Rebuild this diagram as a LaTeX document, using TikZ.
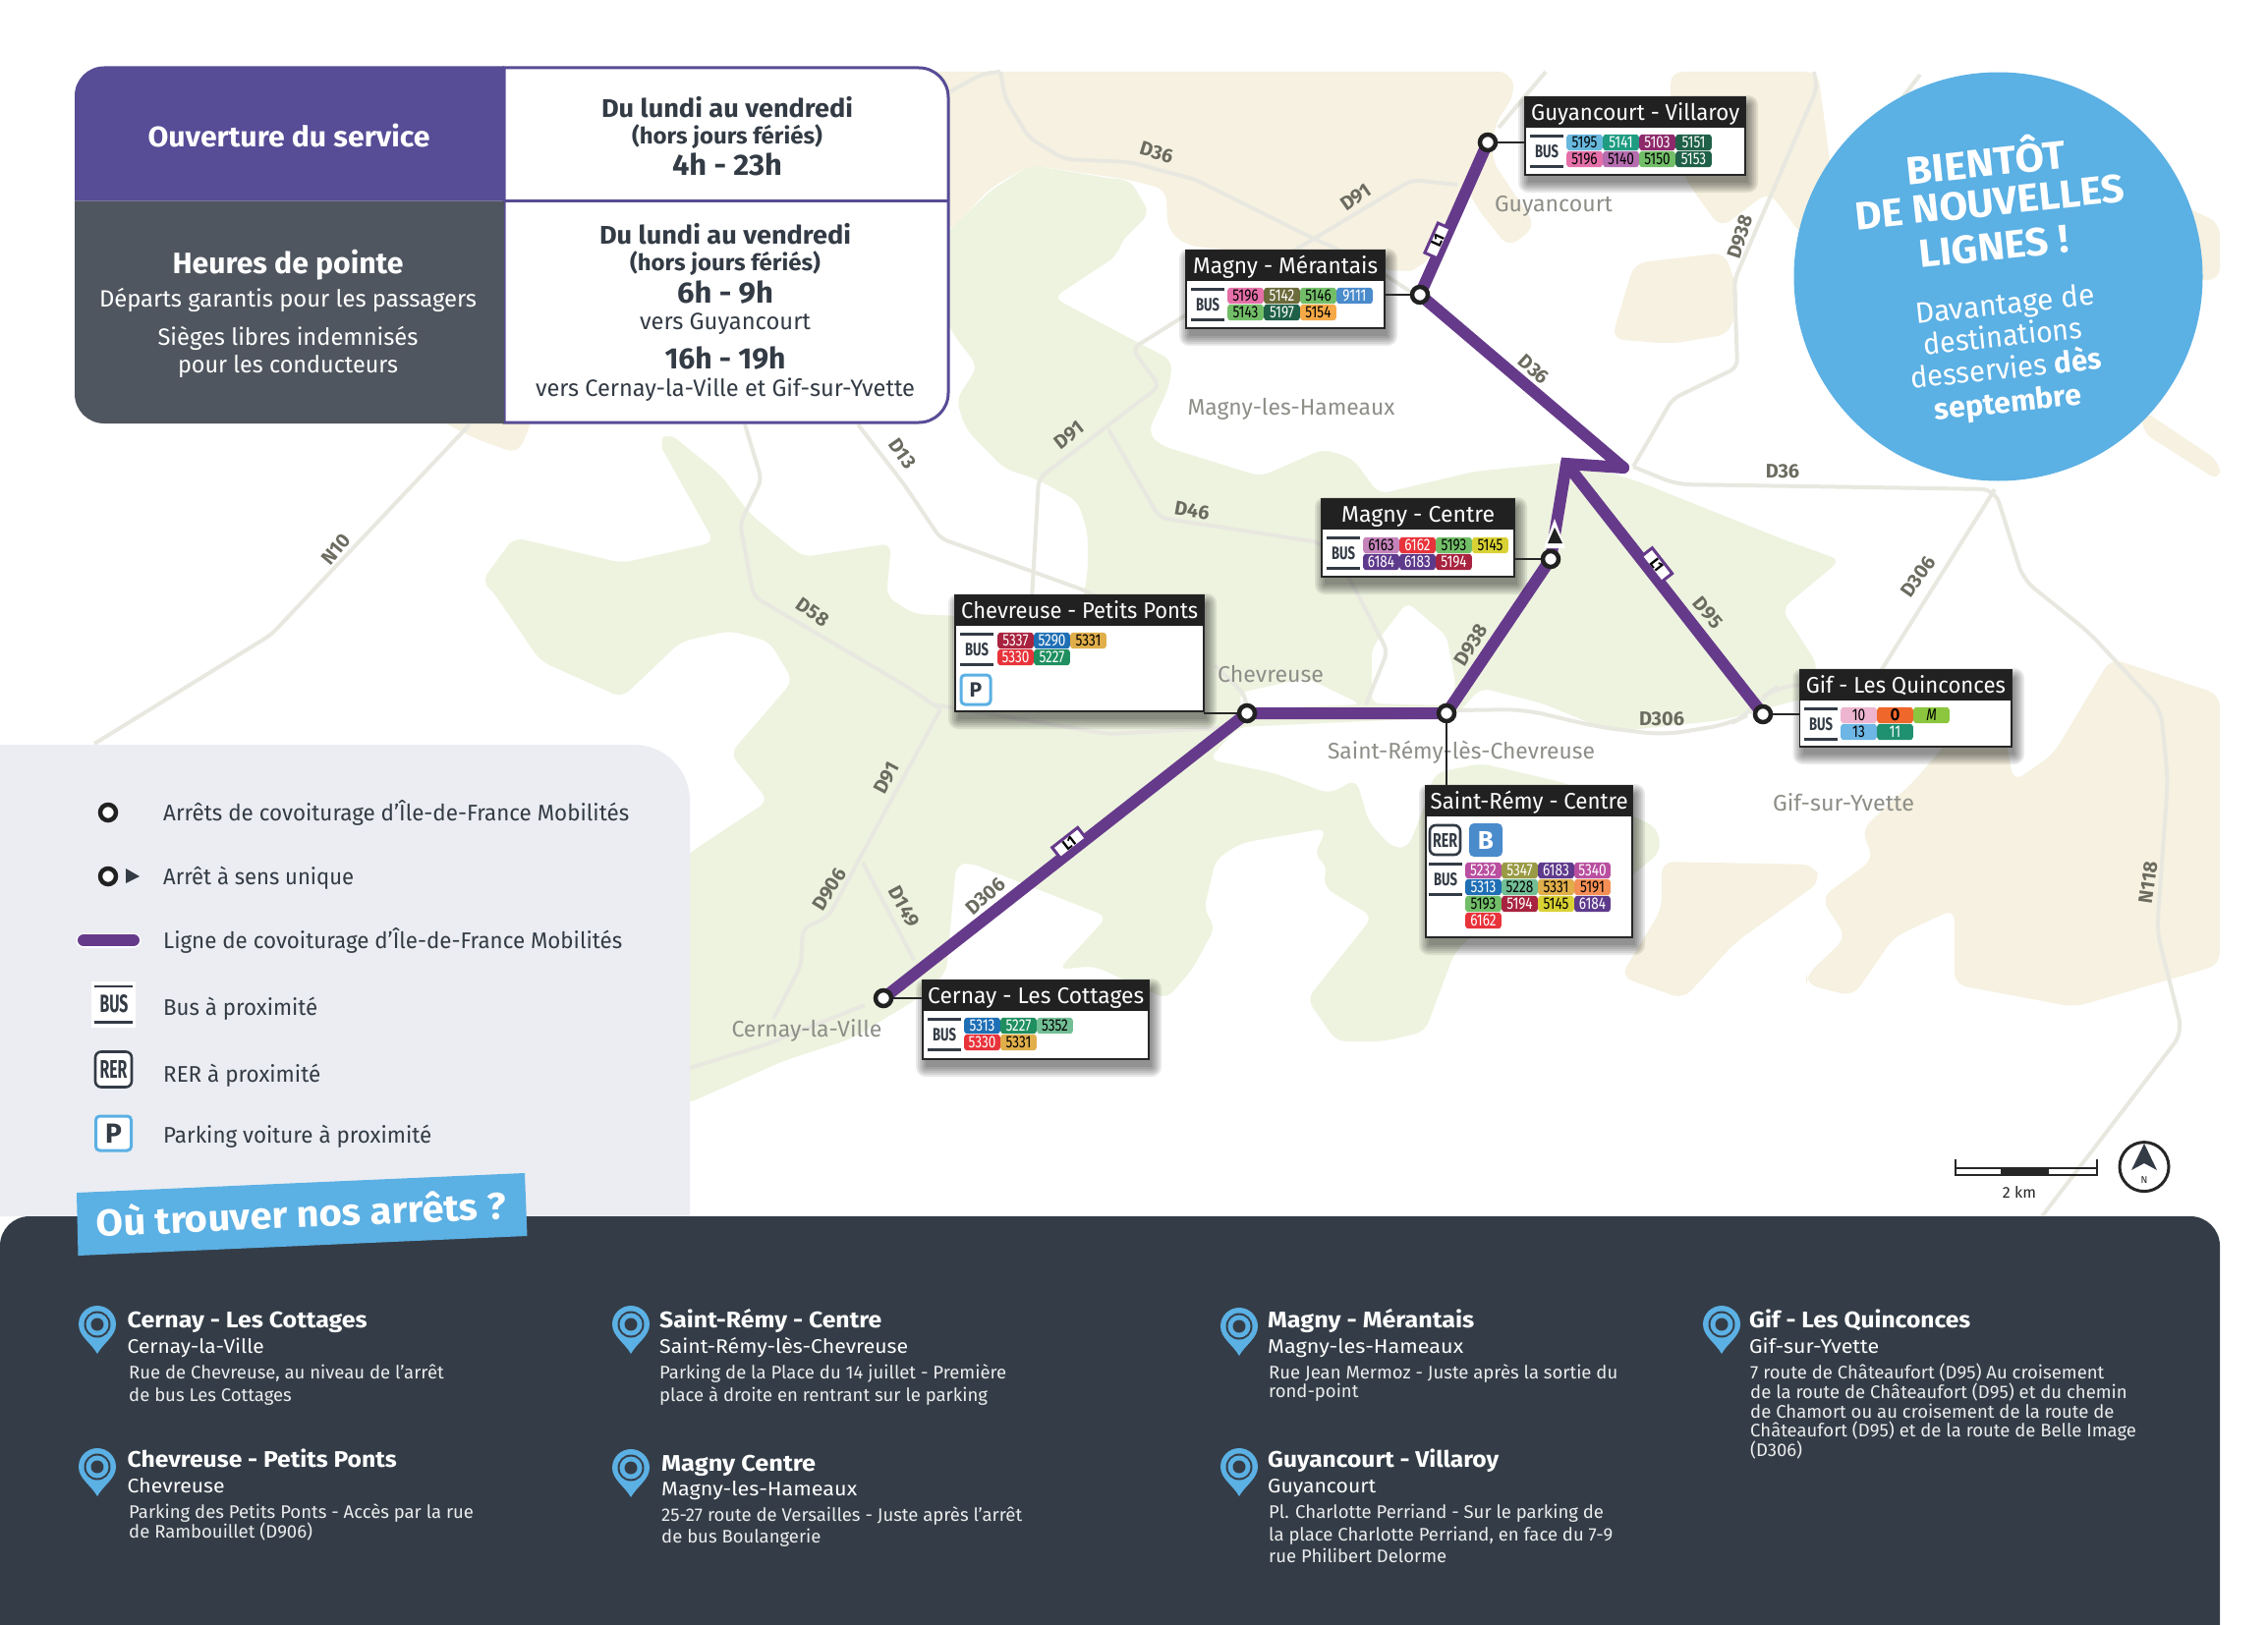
\documentclass[tikz,border=0pt]{standalone}
\usepackage{graphicx}
\usepackage{fontspec}
\setmainfont{Fira Sans}
\definecolor{panelP}{HTML}{574C96}
\definecolor{panelG}{HTML}{50565F}
\definecolor{inkD}{HTML}{333B45}
\definecolor{darkP}{HTML}{343D47}
\definecolor{legG}{HTML}{EBEDF2}
\definecolor{skyB}{HTML}{5BB0E4}
\definecolor{routeC}{HTML}{663A8B}
\definecolor{beige}{HTML}{F6F1E0}
\definecolor{greenM}{HTML}{EDF3DF}
\definecolor{roadC}{HTML}{E8E8E0}
\definecolor{roadT}{HTML}{6B6B60}
\definecolor{townT}{HTML}{8E8E88}
\definecolor{cPink}{HTML}{E56FA8}
\definecolor{cOlive}{HTML}{6B6B3C}
\definecolor{cGreen}{HTML}{72BE68}
\definecolor{cBlue}{HTML}{4A8BCB}
\definecolor{cDkG}{HTML}{1F6048}
\definecolor{cOrange}{HTML}{F5A947}
\definecolor{cSky}{HTML}{68B8DE}
\definecolor{cTeal}{HTML}{1F9C82}
\definecolor{cPlum}{HTML}{8E2A6B}
\definecolor{cMauve}{HTML}{B56DB0}
\definecolor{cLilac}{HTML}{C583BB}
\definecolor{cRed}{HTML}{E8333B}
\definecolor{cYellow}{HTML}{D9D234}
\definecolor{cPurple}{HTML}{5E3A8C}
\definecolor{cCrim}{HTML}{A8233F}
\definecolor{cRoyal}{HTML}{1F6FB5}
\definecolor{cGold}{HTML}{E0AE4A}
\definecolor{cEmer}{HTML}{1F8F5F}
\definecolor{cMint}{HTML}{72BE95}
\definecolor{cMag}{HTML}{B94FA0}
\definecolor{cKhaki}{HTML}{9A9A45}
\definecolor{cCoral}{HTML}{F58F55}
\definecolor{cPale}{HTML}{EDB5D0}
\definecolor{cOrg}{HTML}{F0672B}
\definecolor{cLime}{HTML}{8CC63F}
\definecolor{cSkyB}{HTML}{6DB6E5}
\definecolor{cTealB}{HTML}{1F9070}
\newcommand{\fsz}[1]{\fontsize{#1pt}{#1pt}\selectfont}
\newsavebox{\twbox}
\newcommand{\tw}[2]{\sbox{\twbox}{#2}\pgfmathsetmacro{\twr}{#1/\the\wd\twbox}\scalebox{\twr}[1]{\usebox{\twbox}}}
\newcounter{lb}
\newcommand{\lab}[4]{\stepcounter{lb}\node[#1] (lb\arabic{lb}) at ({#2},{#3}) {#4};}
\newcommand{\bd}[5]{\stepcounter{lb}\node[badge,fill=#3,text=#4] (lb\arabic{lb}) at ({#1*37+18.5},{#2*17+8}) {\scalebox{0.8}[1]{#5}};}
\newcommand{\stopcard}[7]{%
  \foreach \i in {1,...,6}{\pgfmathsetmacro{\sv}{2*\i-2}
    \fill[black,opacity=.085,rounded corners=\sv pt] ({#2+3-\sv},{#3+8-\sv}) rectangle ({#2+#4+3+\sv},{#3+#5+8+\sv});}
  \node[cardbody,minimum width=#4pt,minimum height=#5pt] (#1) at (#2,#3) {};
  \node[cardhead,minimum width=#4pt] (#1h) at (#2,#3) {};
  \lab{inner sep=0pt,anchor=base west,text=white,font=\fsz{23}}{#2+(#4-#7)/2}{#3+23}{\tw{#7}{#6}}
}
\newcommand{\busicon}[2]{%
  \draw[busbar] ({#1-17},{#2-15.5}) -- ({#1+17},{#2-15.5});
  \draw[busbar] ({#1-17},{#2+15.5}) -- ({#1+17},{#2+15.5});
  \lab{inner sep=0pt,anchor=center,text=inkD}{#1}{#2}{\resizebox{24pt}{13pt}{\bfseries BUS}}
}
\newcommand{\pinicon}[2]{%
  \begin{scope}[shift={(#1,#2)}]
  \fill[skyB] (0,24) .. controls (-6,13) and (-19,6) .. (-19,-6) .. controls (-19,-17) and (-10,-25) .. (0,-25) .. controls (10,-25) and (19,-17) .. (19,-6) .. controls (19,6) and (6,13) .. (0,24) -- cycle;
  \fill[darkP] (0,-6) circle (13.5pt);
  \fill[skyB] (0,-6) circle (11.5pt);
  \fill[darkP] (0,-6) circle (6.5pt);
  \end{scope}
}
\newcommand{\entry}[7]{% x, y title, y sub, title, sub, w title, w sub
  \lab{tl,text=white,font=\fsz{23}}{#1}{#2}{\tw{#6}{\bfseries #4}}
  \lab{tl,yshift=2pt,text=white,font=\fsz{20}}{#1}{#3}{\tw{#7}{#5}}
}
\tikzset{
  x=1pt,y=-1pt,
  tm/.style={inner sep=0pt,anchor=mid,yshift=-6pt},
  tl/.style={inner sep=0pt,anchor=mid west,yshift=-6pt},
  tc/.style={inner sep=0pt,anchor=center},
  bl/.style={fill=beige,rounded corners=12pt},
  gb/.style={fill=greenM,rounded corners=10pt},
  wb/.style={fill=white,rounded corners=8pt},
  road/.style={draw=roadC,line width=4pt,rounded corners=8pt},
  roadlab/.style={inner sep=0pt,anchor=center,text=roadT,font=\fsz{20}\bfseries},
  town/.style={inner sep=0pt,anchor=center,text=townT,font=\fsz{23}},
  route/.style={draw=routeC,line width=12pt,line cap=round,line join=miter},
  stopdot/.style={circle,draw=black!87,line width=4.5pt,fill=white,minimum size=16pt,inner sep=0pt},
  leader/.style={draw=black!85,line width=1.3pt},
  cardbody/.style={anchor=north west,fill=white,draw=black!85,line width=1.6pt,inner sep=0pt,outer sep=0pt},
  cardhead/.style={anchor=north west,fill=black!87,inner sep=0pt,outer sep=0pt,minimum height=31pt},
  badge/.style={rounded corners=3pt,minimum width=36.6pt,minimum height=16.4pt,inner sep=0pt,font=\fsz{17}},
  busbar/.style={draw=inkD,line width=2.6pt},
  linemark/.style={draw=routeC,line width=3pt,fill=white,minimum width=33pt,minimum height=14pt,inner sep=0pt,font=\fsz{15}\bfseries},
  desc/.style={inner sep=0pt,anchor=mid west,yshift=-4pt,text=white!90!darkP,font=\fsz{18.5}},
  pt/.style={tm,text=inkD,font=\fsz{26}},
  pts/.style={tm,text=inkD,font=\fsz{23}},
  lg/.style={tl,text=inkD,font=\fsz{23}},
}
\begin{document}
\begin{tikzpicture}
\useasboundingbox (0,0) rectangle (2308,1654);
\fill[white] (0,0) rectangle (2308,1654);
% ---- map: beige
\fill[bl] (900,73)--(1537,73)--(1542,95)--(1521,127)--(1518,163)--(1563,230)--(1535,252)--(1502,210)--(1491,187)--(1481,230)--(1445,273)--(1430,277)--(1330,262)--(1207,250)--(1188,233)--(1187,193)--(1150,183)--(1048,168)--(1007,192)--(967,235)--(900,235)--cycle;
\fill[bl] (443,425)--(543,425)--(527,462)--(480,445)--cycle;
\fill[bl] (1700,73)--(1850,73)--(1880,300)--(1800,195)--(1751,232)--(1720,190)--(1700,150)--cycle;
\fill[bl] (2180,190)--(2259,227)--(2259,285)--(2200,285)--cycle;
\fill[bl] (2180,417)--(2259,470)--(2259,490)--(2180,440)--cycle;
\fill[bl] (1663,268)--(1755,257)--(1770,300)--(1760,340)--(1700,350)--(1640,345)--cycle;
\fill[bl] (1949,794)--(1990,745)--(2040,745)--(2049,796)--(2090,767)--(2148,670)--(2259,707)--(2259,982)--(2111,1025)--(1989,1002)--(1989,925)--(1927,954)--(1886,1014)--(1838,1002)--(1838,993)--(1879,954)--(1853,914)--(1907,874)--(1894,845)--cycle;
\fill[bl] (1691,877)--(1846,880)--(1853,897)--(1765,960)--(1713,1017)--(1649,994)--(1691,925)--cycle;
% ---- map: green
\fill[gb] (490,592)--(523,547)--(633,573)--(727,552)--(670,450)--(680,440)--(733,483)--(763,523)--(817,567)--(907,553)--(902,607)--(930,625)--(1000,628)--(1100,625)--(1107,580)--(1107,543)--(1097,510)--(1053,487)--(1022,477)--(983,437)--(973,407)--(995,373)--(970,340)--(950,300)--(950,250)--(1007,195)--(1048,168)--(1133,182)--(1150,183)--(1170,217)--(1140,247)--(1137,260)--(1072,303)--(1117,327)--(1193,367)--(1190,393)--(1168,440)--(1180,453)--(1283,485)--(1347,457)--(1377,467)--(1403,503)--(1500,480)--(1600,470)--(1667,490)--(1817,550)--(1873,570)--(1813,620)--(1850,677)--(1840,710)--(1793,722)--(1753,733)--(1640,745)--(1570,716)--(1507,700)--(1480,730)--(1260,740)--(1230,773)--(1297,787)--(1353,808)--(1380,793)--(1393,837)--(1417,863)--(1433,863)--(1447,827)--(1460,787)--(1507,777)--(1593,797)--(1687,843)--(1690,867)--(1650,900)--(1500,950)--(1480,970)--(1450,1050)--(1407,1060)--(1360,1060)--(1330,1017)--(1397,933)--(1347,903)--(1350,877)--(1337,873)--(1350,843)--(1263,858)--(1237,875)--(1225,927)--(1237,943)--(1213,987)--(1187,1017)--(1113,983)--(1077,987)--(1127,933)--(987,878)--(973,880)--(963,990)--(933,1017)--(867,1057)--(797,1080)--(700,1123)--(690,1123)--(690,880)--(702,868)--(782,815)--(743,767)--(807,693)--(783,653)--(743,642)--(693,653)--(633,710)--(550,673)--(500,600)--cycle;
\fill[wb] (1396,716)--(1396,660)--(1432,613)--(1472,647)--(1482,700)--(1470,718)--cycle;
\fill[wb] (1262,705)--(1330,690)--(1385,717)--(1262,722)--cycle;
% ---- map: roads
\draw[road] (478,432)--(276,646)--(96,757);
\draw[road] (1018,73)--(1023,100)--(1047,140)--(1083,162)--(1150,165)--(1217,183)--(1337,243)--(1360,253)--(1410,280)--(1440,300);
\draw[road] (967,93)--(1000,75)--(1018,73);
\draw[road] (1483,188)--(1437,183)--(1337,243)--(1203,323)--(1152,355)--(1180,393)--(1057,487)--(1050,610);
\draw[road] (1128,437)--(1180,527)--(1343,552)--(1374,590)--(1412,663)--(1390,717);
\draw[road] (873,432)--(920,493)--(957,548)--(1104,601)--(1125,612);
\draw[road] (758,432)--(775,488)--(753,533)--(767,607)--(920,697)--(957,722);
\draw[road] (957,722)--(873,877)--(843,933)--(817,945)--(815,983)--(787,1037);
\draw[road] (878,878)--(930,977);
\draw[road] (702,1087)--(780,1063)--(880,1023);
\draw[road] (1236,677)--(1267,707)--(1269,726);
\draw[road] (950,717)--(1008,727)--(1128,747)--(1258,740);
\draw[road,rounded corners=20pt] (1483,723)--(1550,722)--(1627,740)--(1693,748)--(1760,737)--(1780,727)--(1793,710)--(1810,698)--(1840,697);
\draw[road,rounded corners=14pt] (1662,475)--(1706,493)--(2030,498)--(2059,590)--(2125,643)--(2199,722)--(2206,794)--(2195,948)--(2221,1051)--(2078,1238);
\draw[road] (2030,498)--(1912,686);
\draw[road] (1846,73)--(1849,90)--(1765,285)--(1768,374)--(1702,406)--(1662,475);
\draw[road] (1573,73)--(1525,130);
\draw[road] (1954,76)--(1920,120);
% ---- map labels
\lab{roadlab,rotate=-17}{1177}{155}{D36}
\lab{roadlab,rotate=35}{1380}{201}{D91}
\lab{roadlab,rotate=72}{1771}{241}{D938}
\lab{roadlab,rotate=-42}{1561}{376}{D36}
\lab{roadlab}{1814}{480}{D36}
\lab{roadlab,rotate=38}{1088}{443}{D91}
\lab{roadlab,rotate=-10}{1213}{520}{D46}
\lab{roadlab,rotate=-55}{918.5}{461.5}{D13}
\lab{roadlab,rotate=50}{342}{559}{N10}
\lab{roadlab,rotate=-35}{827}{623}{D58}
\lab{roadlab,rotate=62}{902}{792}{D91}
\lab{roadlab,rotate=58}{844}{905}{D906}
\lab{roadlab,rotate=-62}{920}{923}{D149}
\lab{roadlab,rotate=42}{1003}{912}{D306}
\lab{roadlab,rotate=58}{1497}{657}{D938}
\lab{roadlab,rotate=-50}{1738}{624}{D95}
\lab{roadlab}{1691}{732}{D306}
\lab{roadlab,rotate=55}{1952}{587}{D306}
\lab{roadlab,rotate=82}{2186}{898}{N118}
\lab{town}{1581}{210}{\tw{120}{Guyancourt}}
\lab{town}{1314}{416}{\tw{211}{Magny-les-Hameaux}}
\lab{town}{1293}{686}{\tw{108}{Chevreuse}}
\lab{town}{1487}{766}{\tw{272}{Saint-Rémy-lès-Chevreuse}}
\lab{town}{1876}{817}{\tw{144}{Gif-sur-Yvette}}
\lab{town}{821}{1049}{\tw{153}{Cernay-la-Ville}}
% ---- route
\coordinate (pCer) at (899,1016);
\coordinate (pChe) at (1269,726);
\coordinate (pRem) at (1472,726);
\coordinate (pMCe) at (1578,569);
\coordinate (pApx) at (1594,472);
\coordinate (pBnd) at (1652,476);
\coordinate (pMer) at (1445,300);
\coordinate (pGuy) at (1514,145);
\coordinate (pGif) at (1794,727);
\draw[route] (pCer)--(pChe)--(pRem)--(pMCe)--(pApx)--(pBnd);
\draw[route,line join=round] (pBnd)--(pMer)--(pGuy);
\draw[route] (pApx)--(pGif);
\node[linemark,rotate=66] (mk1) at (1463,245) {L1};
\node[linemark,rotate=-52] (mk2) at (1686,575) {L1};
\node[linemark,rotate=38] (mk3) at (1088,858) {L1};
\fill[white] (1582,528)--(1571,558)--(1593,558)--cycle;
\fill[black!87] (1582,537)--(1575,553)--(1590,553)--cycle;
% ---- stops
\node[stopdot] (sCer) at (pCer) {};
\node[stopdot] (sChe) at (pChe) {};
\node[stopdot] (sRem) at (pRem) {};
\node[stopdot] (sMCe) at (pMCe) {};
\node[stopdot] (sMer) at (pMer) {};
\node[stopdot] (sGuy) at (pGuy) {};
\node[stopdot] (sGif) at (pGif) {};
% ---- cards
\stopcard{cMer}{1207}{255}{202}{79}{Magny - Mérantais}{188}
\busicon{1229}{310}
\begin{scope}[shift={(1249,293)}]
\bd{0}{0}{cPink}{black}{5196}\bd{1}{0}{cOlive}{white}{5142}\bd{2}{0}{cGreen}{black}{5146}\bd{3}{0}{cBlue}{white}{9111}
\bd{0}{1}{cGreen}{black}{5143}\bd{1}{1}{cDkG}{white}{5197}\bd{2}{1}{cOrange}{black}{5154}
\end{scope}
\stopcard{cGuy}{1552}{99}{224}{79}{Guyancourt - Villaroy}{212}
\busicon{1574}{154}
\begin{scope}[shift={(1594,137)}]
\bd{0}{0}{cSky}{black}{5195}\bd{1}{0}{cTeal}{white}{5141}\bd{2}{0}{cPlum}{white}{5103}\bd{3}{0}{cDkG}{white}{5151}
\bd{0}{1}{cPink}{black}{5196}\bd{1}{1}{cMauve}{black}{5140}\bd{2}{1}{cGreen}{black}{5150}\bd{3}{1}{cDkG}{white}{5153}
\end{scope}
\stopcard{cMCe}{1345}{508}{196}{79}{Magny - Centre}{156}
\busicon{1367}{563}
\begin{scope}[shift={(1387,547)}]
\bd{0}{0}{cLilac}{black}{6163}\bd{1}{0}{cRed}{white}{6162}\bd{2}{0}{cGreen}{black}{5193}\bd{3}{0}{cYellow}{black}{5145}
\bd{0}{1}{cPurple}{white}{6184}\bd{1}{1}{cPurple}{white}{6183}\bd{2}{1}{cCrim}{white}{5194}
\end{scope}
\stopcard{cChe}{972}{606}{253}{118}{Chevreuse - Petits Ponts}{241}
\busicon{994}{661}
\begin{scope}[shift={(1015,644)}]
\bd{0}{0}{cCrim}{white}{5337}\bd{1}{0}{cRoyal}{white}{5290}\bd{2}{0}{cGold}{black}{5331}
\bd{0}{1}{cRed}{white}{5330}\bd{1}{1}{cEmer}{white}{5227}
\end{scope}
\node[draw=skyB,line width=3pt,rounded corners=4pt,minimum width=30pt,minimum height=30pt,inner sep=0pt,fill=white,text=inkD,font=\fsz{21}\bfseries] (pkC) at (993,702) {P};
\stopcard{cRem}{1451}{800}{210}{154}{Saint-Rémy - Centre}{201}
\node[draw=inkD,line width=2.6pt,rounded corners=6pt,minimum width=31pt,minimum height=30pt,inner sep=0pt,fill=white,text=inkD] (rerC) at (1470.5,855) {\resizebox{25pt}{14pt}{\bfseries RER}};
\node[fill=cBlue,rounded corners=5pt,minimum width=34pt,minimum height=34pt,inner sep=0pt,text=white,font=\fsz{26}\bfseries] (lineB) at (1512,855) {B};
\busicon{1471}{895}
\begin{scope}[shift={(1491,878)}]
\bd{0}{0}{cMag}{white}{5232}\bd{1}{0}{cKhaki}{white}{5347}\bd{2}{0}{cPurple}{white}{6183}\bd{3}{0}{cMag}{white}{5340}
\bd{0}{1}{cRoyal}{white}{5313}\bd{1}{1}{cMint}{black}{5228}\bd{2}{1}{cGold}{black}{5331}\bd{3}{1}{cCoral}{black}{5191}
\bd{0}{2}{cGreen}{black}{5193}\bd{1}{2}{cCrim}{white}{5194}\bd{2}{2}{cYellow}{black}{5145}\bd{3}{2}{cPurple}{white}{6184}
\bd{0}{3}{cRed}{white}{6162}
\end{scope}
\stopcard{cGif}{1831.5}{682}{215.5}{78}{Gif - Les Quinconces}{203}
\busicon{1853}{737}
\begin{scope}[shift={(1873,720)}]
\bd{0}{0}{cPale}{black}{10}\bd{1}{0}{cOrg}{black}{\bfseries O}\bd{2}{0}{cLime}{black}{\itshape M}
\bd{0}{1}{cSkyB}{black}{13}\bd{1}{1}{cTealB}{white}{11}
\end{scope}
\stopcard{cCer}{939}{998}{230}{80}{Cernay - Les Cottages}{220}
\busicon{961}{1053}
\begin{scope}[shift={(981,1036)}]
\bd{0}{0}{cRoyal}{white}{5313}\bd{1}{0}{cEmer}{white}{5227}\bd{2}{0}{cMint}{black}{5352}
\bd{0}{1}{cRed}{white}{5330}\bd{1}{1}{cGold}{black}{5331}
\end{scope}
% ---- leaders
\draw[leader] (sMer.west) -- (sMer.west -| cMer.east);
\draw[leader] (sGuy.east) -- (sGuy.east -| cGuy.west);
\draw[leader] (sMCe.west) -- (sMCe.west -| cMCe.east);
\draw[leader] (sChe.west) -- (sChe.west -| cChe.east);
\draw[leader] (sRem.south) -- (sRem.south |- cRem.north);
\draw[leader] (sGif.east) -- (sGif.east -| cGif.west);
\draw[leader] (sCer.east) -- (sCer.east -| cCer.west);
% ---- info panel
\filldraw[fill=white,draw=panelP,line width=3pt] (513,69) [rounded corners=30pt] -- (965,69) -- (965,430) [sharp corners] -- (513,430) -- cycle;
\draw[draw=panelP,line width=3pt] (513,204.6) -- (965,204.6);
\fill[panelP] (513,204.6) -- (513,67.5) [rounded corners=30pt] -- (76,67.5) [sharp corners] -- (76,204.6) -- cycle;
\fill[panelG] (513,204.6) -- (513,431) [rounded corners=30pt] -- (76,431) [sharp corners] -- (76,204.6) -- cycle;
\lab{tm,text=white,font=\fsz{29}}{294}{141}{\tw{287}{\bfseries Ouverture du service}}
\lab{pt}{740}{111}{\tw{256}{\bfseries Du lundi au vendredi}}
\lab{pts}{740}{138}{\tw{194}{\bfseries (hors jours fériés)}}
\lab{pt,font=\fsz{30}}{740}{170}{\tw{112}{\bfseries 4h - 23h}}
\lab{tm,text=white,font=\fsz{30}}{293}{270}{\tw{235}{\bfseries Heures de pointe}}
\lab{tm,text=white,font=\fsz{24}}{293}{304}{\tw{384}{Départs garantis pour les passagers}}
\lab{tm,text=white,font=\fsz{24}}{293}{343}{\tw{265}{Sièges libres indemnisés}}
\lab{tm,text=white,font=\fsz{24}}{293}{371}{\tw{224}{pour les conducteurs}}
\lab{pt}{738}{240}{\tw{256}{\bfseries Du lundi au vendredi}}
\lab{pts}{738}{267}{\tw{194}{\bfseries (hors jours fériés)}}
\lab{pt,font=\fsz{30}}{738}{300}{\tw{98}{\bfseries 6h - 9h}}
\lab{pts,font=\fsz{24}}{738}{326.5}{\tw{174}{vers Guyancourt}}
\lab{pt,font=\fsz{30}}{738}{367}{\tw{123}{\bfseries 16h - 19h}}
\lab{pts,font=\fsz{24}}{738}{394.5}{\tw{386}{vers Cernay-la-Ville et Gif-sur-Yvette}}
% ---- blue circle
\fill[skyB] (2033.5,281.5) circle (208pt);
\lab{tm,rotate=6,text=white,font=\fsz{40}}{2022}{171}{\tw{162}{\bfseries BIENTÔT}}
\lab{tm,rotate=6,text=white,font=\fsz{40}}{2026}{211}{\tw{276}{\bfseries DE NOUVELLES}}
\lab{tm,rotate=6,text=white,font=\fsz{40}}{2030}{256}{\tw{152}{\bfseries LIGNES !}}
\lab{tm,rotate=6,text=white,font=\fsz{30}}{2041}{311}{\tw{183}{Davantage de}}
\lab{tm,rotate=6,text=white,font=\fsz{30}}{2039}{344}{\tw{162}{destinations}}
\lab{tm,rotate=6,text=white,font=\fsz{30}}{2042}{377}{\tw{195}{desservies \textbf{dès}}}
\lab{tm,rotate=6,text=white,font=\fsz{30}}{2044}{411}{\tw{150}{\bfseries septembre}}
% ---- legend panel
\fill[legG] (0,1238) -- (0,758) [rounded corners=57pt] -- (702,758) [sharp corners] -- (702,1238) -- cycle;
\node[stopdot] (lgA) at (110,827) {};
\lab{lg}{166}{827}{\tw{474}{Arrêts de covoiturage d’Île-de-France Mobilités}}
\node[stopdot] (lgB) at (110,892) {};
\fill[inkD] (128,884)--(128,899)--(142,892)--cycle;
\lab{lg}{166}{892}{\tw{194}{Arrêt à sens unique}}
\draw[white,line width=15pt,line cap=round] (85,957)--(136,957);
\draw[routeC,line width=12pt,line cap=round] (85,957)--(136,957);
\lab{lg}{166}{957}{\tw{467}{Ligne de covoiturage d’Île-de-France Mobilités}}
\fill[white] (93,999) rectangle (138,1046);
\draw[busbar] (96,1004)--(135,1004);
\draw[busbar] (96,1040.5)--(135,1040.5);
\lab{tc,text=inkD}{116}{1022}{\resizebox{29pt}{18pt}{\bfseries BUS}}
\lab{lg}{166}{1025}{\tw{157}{Bus à proximité}}
\node[draw=inkD,line width=2.6pt,rounded corners=6pt,minimum width=37pt,minimum height=36pt,inner sep=0pt,fill=white,text=inkD] (lgR) at (115.5,1088.5) {\resizebox{28pt}{18pt}{\bfseries RER}};
\lab{lg}{166}{1093}{\tw{160}{RER à proximité}}
\node[draw=skyB,line width=3pt,rounded corners=4pt,minimum width=36pt,minimum height=35pt,inner sep=0pt,fill=white,text=inkD,font=\fsz{28}\bfseries] (lgP) at (115.5,1153.5) {P};
\lab{lg}{166}{1155}{\tw{273}{Parking voiture à proximité}}
% ---- dark panel
\fill[darkP] (0,1654) [rounded corners=30pt] -- (0,1238) -- (2259,1238) [sharp corners] -- (2259,1654) -- cycle;
\fill[skyB] (78,1214)--(534,1194)--(536.5,1258)--(79.5,1278)--cycle;
\lab{tm,rotate=2.5,text=white,font=\fsz{38}}{307}{1241}{\tw{417}{\bfseries Où trouver nos arrêts ?}}
% ---- stop addresses
\pinicon{99}{1354}
\entry{129.5}{1343}{1371}{Cernay - Les Cottages}{Cernay-la-Ville}{244}{139}
\lab{desc}{131}{1397}{Rue de Chevreuse, au niveau de l’arrêt}
\lab{desc}{131}{1420}{de bus Les Cottages}
\pinicon{99}{1499}
\entry{129.5}{1485}{1512.6}{Chevreuse - Petits Ponts}{Chevreuse}{274}{99}
\lab{desc}{131}{1539}{Parking des Petits Ponts - Accès par la rue}
\lab{desc}{131}{1559}{de Rambouillet (D906)}
\pinicon{642}{1354}
\entry{671}{1343}{1371}{Saint-Rémy - Centre}{Saint-Rémy-lès-Chevreuse}{226}{253}
\lab{desc}{671}{1397}{Parking de la Place du 14 juillet - Première}
\lab{desc}{671}{1420}{place à droite en rentrant sur le parking}
\pinicon{642}{1500}
\entry{673}{1489}{1516}{Magny Centre}{Magny-les-Hameaux}{157}{199}
\lab{desc}{673}{1542}{25-27 route de Versailles - Juste après l’arrêt}
\lab{desc}{673}{1564}{de bus Boulangerie}
\pinicon{1261}{1356}
\entry{1290}{1343}{1371}{Magny - Mérantais}{Magny-les-Hameaux}{210}{199}
\lab{desc}{1291}{1397}{Rue Jean Mermoz - Juste après la sortie du}
\lab{desc}{1291}{1416}{rond-point}
\pinicon{1261}{1499}
\entry{1290}{1485}{1512.6}{Guyancourt - Villaroy}{Guyancourt}{235}{110}
\lab{desc}{1291}{1539}{Pl. Charlotte Perriand - Sur le parking de}
\lab{desc}{1291}{1561.6}{la place Charlotte Perriand, en face du 7-9}
\lab{desc}{1291}{1584}{rue Philibert Delorme}
\pinicon{1752}{1354}
\entry{1780}{1343}{1371}{Gif - Les Quinconces}{Gif-sur-Yvette}{225}{132}
\lab{desc}{1781}{1397}{7 route de Châteaufort (D95) Au croisement}
\lab{desc}{1781}{1417}{de la route de Châteaufort (D95) et du chemin}
\lab{desc}{1781}{1437}{de Chamort ou au croisement de la route de}
\lab{desc}{1781}{1455.6}{Châteaufort (D95) et de la route de Belle Image}
\lab{desc}{1781}{1475.5}{(D306)}
% ---- scale and north
\draw[black!85,line width=2pt] (1990,1180)--(1990,1196)--(2134,1196)--(2134,1180);
\draw[black!85,line width=2pt] (1990,1189)--(2134,1189);
\fill[black!85] (2036,1189) rectangle (2085,1196);
\lab{tc,text=black!85,font=\fsz{16}}{2055}{1213}{2 km}
\draw[black!85,line width=3pt] (2182,1187.6) circle (25pt);
\fill[inkD] (2182,1164)--(2195,1191)--(2182,1184)--(2169,1191)--cycle;
\lab{tc,text=black!85,font=\fsz{10}}{2182}{1201}{N}
\end{tikzpicture}
\end{document}
